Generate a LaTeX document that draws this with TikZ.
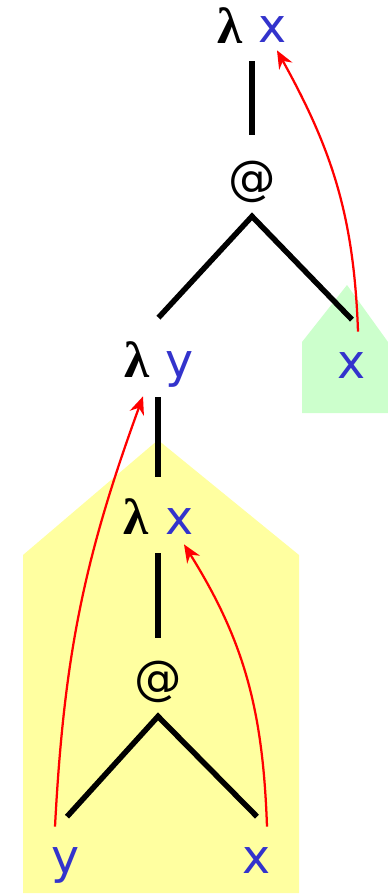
\documentclass[tikz,border=0pt]{standalone}
\usepackage{fontspec}
\setmainfont{DejaVu Sans}
\newfontfamily\lamfont{Liberation Serif}
\usetikzlibrary{arrows.meta,calc}
\definecolor{varblue}{RGB}{51,51,204}
\definecolor{shadeyellow}{RGB}{255,255,160}
\definecolor{shadegreen}{RGB}{204,255,204}

\begin{document}
\begin{tikzpicture}[
  x=0.2mm, y=-0.2mm,
  lbl/.style={inner sep=0pt, anchor=base, text height=5.4mm, text depth=0pt, font=\fontsize{27}{32}\selectfont},
  lam/.style={lbl, font=\fontsize{29}{34}\selectfont\lamfont\bfseries},
  var/.style={lbl, text=varblue},
  op/.style={lbl},
  branch/.style={line width=1.1mm},
  backref/.style={red, line width=0.45mm, -{Stealth[length=3.6mm, width=3mm]}}
]
  \useasboundingbox (0,0) rectangle (388,894);
  % Shaded subterms
  \fill[shadeyellow] (23,555) -- (158,440) -- (299,555) -- (299,893) -- (23,893) -- cycle;
  \fill[shadegreen] (302,342) -- (347,285) -- (388,342) -- (388,413) -- (302,413) -- cycle;
  % Outer term
  \node[lam] (lamA) at (230,43) {λ};
  \node[var] (xA)   at (273,42) {x};
  \node[op]  (appA) at (252,194) {@};
  \node[lam] (lamB) at (137,377) {λ};
  \node[var] (yB)   at (180,377) {y};
  \node[var] (xR)   at (352,378) {x};
  % Inner term
  \node[lam] (lamC) at (136,534) {λ};
  \node[var] (xC)   at (180,534) {x};
  \node[op]  (appC) at (158,694) {@};
  \node[var] (yD)   at (66,873) {y};
  \node[var] (xD)   at (257,873) {x};
  % Tree branches
  \draw[branch, shorten <=3.6mm, shorten >=6.4mm] (lamA.south -| appA) -- (appA.north);
  \draw[branch] ($(lamB.north)!.5!(yB.north)+(0,-32)$) -- ($(appA.south)+(0,22)$) -- ($(xR.north)+(0,-31)$);
  \draw[branch, shorten <=4mm, shorten >=6mm] (lamB.south -| appC) -- (lamC.north -| appC);
  \draw[branch, shorten <=3.8mm, shorten >=5.8mm] (lamC.south -| appC) -- (appC.north);
  \draw[branch] ($(yD.north)+(1,-29)$) -- ($(appC.south)+(0,22)$) -- ($(xD.north)+(0,-29)$);
  % Binding arrows
  \draw[backref] ($(xR.north)+(6,-19)$) to[out=92, in=-61] ($(xA.south)+(4,8)$);
  \draw[backref] ($(yD.north)+(-11,-19)$) to[out=87, in=-110] ($(lamB.south)+(6,19)$);
  \draw[backref] ($(xD.north)+(10,-19)$) to[out=92, in=-58] ($(xC.south)+(4,10)$);
\end{tikzpicture}
\end{document}
